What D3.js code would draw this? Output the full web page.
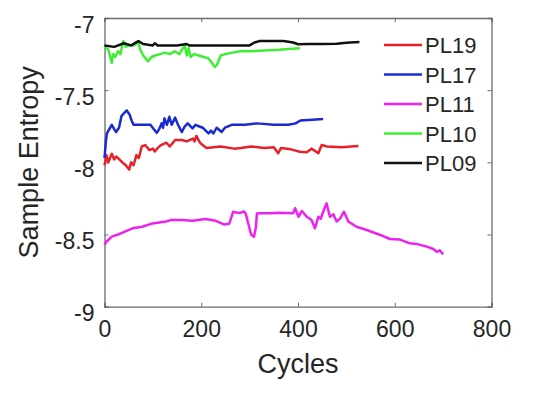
<!DOCTYPE html>
<html>
<head>
<meta charset="utf-8">
<script src="https://cdn.jsdelivr.net/npm/d3@7"></script>
<style>
  body { margin: 0; background: #fff; }
  svg { display: block; font-family: "Liberation Sans", Arial, sans-serif; }
</style>
</head>
<body>
<div id="chart"></div>
<script>
// --- Data (cycles, sample entropy) ---
const seriesNames = ["PL19", "PL17", "PL11", "PL10", "PL09"];
const seriesColors = ["#e8202a", "#1b2bd2", "#ee22ee", "#3fee33", "#111111"];

const pl19 = [[0,-8.02],[4,-7.95],[8,-8.00],[15,-7.94],[20,-7.98],[24,-7.96],[28,-7.97],[37,-8.00],[44,-8.02],[51,-8.05],[55,-8.00],[60,-8.02],[66,-7.95],[71,-7.97],[77,-7.89],[84,-7.88],[93,-7.915],[100,-7.905],[104,-7.925],[110,-7.90],[117,-7.88],[128,-7.864],[135,-7.89],[146,-7.845],[160,-7.845],[170,-7.855],[183,-7.835],[186,-7.855],[190,-7.817],[195,-7.85],[199,-7.87],[211,-7.90],[240,-7.89],[268,-7.905],[282,-7.90],[303,-7.89],[330,-7.90],[350,-7.895],[359,-7.937],[365,-7.90],[385,-7.91],[404,-7.926],[418,-7.93],[428,-7.905],[442,-7.937],[449,-7.88],[460,-7.89],[490,-7.895],[510,-7.89],[525,-7.887]];

const pl17 = [[0,-7.97],[3,-7.85],[5,-7.80],[10,-7.77],[15,-7.74],[20,-7.77],[24,-7.79],[30,-7.76],[35,-7.68],[40,-7.66],[46,-7.64],[52,-7.67],[56,-7.71],[60,-7.74],[70,-7.74],[80,-7.74],[95,-7.74],[102,-7.77],[108,-7.795],[113,-7.77],[118,-7.73],[121,-7.76],[124,-7.695],[129,-7.74],[134,-7.684],[139,-7.74],[146,-7.69],[152,-7.74],[160,-7.79],[166,-7.75],[172,-7.73],[182,-7.765],[188,-7.74],[195,-7.75],[203,-7.76],[215,-7.80],[220,-7.78],[225,-7.80],[232,-7.76],[242,-7.79],[249,-7.76],[263,-7.74],[290,-7.74],[315,-7.73],[350,-7.74],[380,-7.74],[395,-7.73],[405,-7.71],[430,-7.705],[452,-7.70]];

const pl11 = [[0,-8.57],[4,-8.55],[15,-8.515],[28,-8.50],[42,-8.48],[58,-8.457],[78,-8.446],[99,-8.423],[127,-8.41],[137,-8.40],[161,-8.40],[182,-8.405],[209,-8.393],[230,-8.405],[247,-8.43],[258,-8.425],[266,-8.342],[275,-8.35],[281,-8.35],[288,-8.34],[292,-8.355],[298,-8.434],[303,-8.50],[309,-8.515],[313,-8.45],[315,-8.355],[322,-8.353],[342,-8.353],[360,-8.35],[390,-8.353],[394,-8.318],[401,-8.377],[408,-8.337],[418,-8.377],[428,-8.40],[435,-8.457],[442,-8.377],[447,-8.39],[452,-8.342],[459,-8.284],[466,-8.377],[473,-8.36],[480,-8.41],[487,-8.39],[495,-8.342],[504,-8.41],[521,-8.446],[542,-8.469],[570,-8.503],[590,-8.531],[611,-8.535],[631,-8.561],[645,-8.565],[666,-8.584],[680,-8.60],[687,-8.62],[693,-8.61],[700,-8.637]];

const pl10 = [[0,-7.20],[8,-7.22],[15,-7.31],[18,-7.25],[22,-7.27],[28,-7.23],[33,-7.25],[36,-7.20],[39,-7.16],[44,-7.20],[50,-7.19],[60,-7.19],[65,-7.18],[70,-7.17],[74,-7.22],[80,-7.26],[85,-7.28],[90,-7.30],[97,-7.27],[105,-7.26],[115,-7.25],[125,-7.24],[135,-7.25],[145,-7.23],[155,-7.25],[160,-7.22],[166,-7.19],[170,-7.26],[174,-7.21],[178,-7.27],[185,-7.25],[195,-7.26],[205,-7.27],[215,-7.28],[222,-7.31],[228,-7.34],[233,-7.32],[240,-7.26],[250,-7.25],[265,-7.24],[280,-7.23],[300,-7.23],[330,-7.225],[360,-7.22],[380,-7.215],[404,-7.21]];

const pl09 = [[0,-7.19],[20,-7.20],[40,-7.175],[55,-7.19],[70,-7.16],[80,-7.18],[100,-7.19],[104,-7.175],[110,-7.19],[150,-7.19],[170,-7.18],[175,-7.19],[200,-7.19],[250,-7.19],[300,-7.19],[310,-7.17],[320,-7.16],[350,-7.16],[370,-7.16],[390,-7.17],[400,-7.182],[420,-7.18],[450,-7.18],[480,-7.178],[500,-7.172],[527,-7.166]];

const seriesValues = [pl19, pl17, pl11, pl10, pl09];

const xTicks = [0, 200, 400, 600, 800];
const yTicks = [-7, -7.5, -8, -8.5, -9];

// --- Layout ---
const W = 536, H = 393;
const plot = { left: 104.5, top: 18, right: 491.5, bottom: 306.7 };

const svg = d3.select("#chart").append("svg")
    .attr("width", W)
    .attr("height", H);

const x = d3.scaleLinear().domain([0, 800]).range([plot.left, plot.right]);
const y = d3.scaleLinear().domain([-9, -7]).range([plot.bottom, plot.top]);

const axisColor = "#6b6b6b";
const textColor = "#262626";
const tickLen = 4;

// bottom axis (ticks pointing inward)
const xAxis = svg.append("g")
    .attr("transform", `translate(0,${plot.bottom})`)
    .call(d3.axisBottom(x).tickValues(xTicks).tickSize(-tickLen).tickPadding(14).tickFormat(d => String(d)));
xAxis.selectAll("text").style("font-size", "23px").attr("fill", textColor).attr("dy", "0.71em");

// left axis, plain hyphen for the minus sign as in the figure
const yAxis = svg.append("g")
    .attr("transform", `translate(${plot.left},0)`)
    .call(d3.axisLeft(y).tickValues(yTicks).tickSize(-tickLen).tickPadding(10).tickFormat(d => String(d)));
yAxis.selectAll("text").style("font-size", "23px").attr("fill", textColor).attr("dy", "0.62em");

// top and right mirrored ticks
svg.append("g")
    .attr("transform", `translate(0,${plot.top})`)
    .call(d3.axisTop(x).tickValues(xTicks).tickSize(-tickLen).tickFormat(""));
svg.append("g")
    .attr("transform", `translate(${plot.right},0)`)
    .call(d3.axisRight(y).tickValues(yTicks).tickSize(-tickLen).tickFormat(""));

svg.selectAll(".domain").attr("stroke", axisColor).attr("stroke-width", 1.3);
svg.selectAll(".tick line").attr("stroke", axisColor);

// --- Lines ---
const line = d3.line().x(d => x(d[0])).y(d => y(d[1]));

svg.append("g").selectAll("path")
    .data(seriesValues)
    .enter()
    .append("path")
    .attr("d", line)
    .attr("fill", "none")
    .attr("stroke", (d, i) => seriesColors[i])
    .attr("stroke-width", 2.5)
    .attr("stroke-linejoin", "round");

// --- Axis titles ---
svg.append("text")
    .attr("x", (plot.left + plot.right) / 2)
    .attr("y", 373)
    .attr("text-anchor", "middle")
    .attr("fill", textColor)
    .style("font-size", "27px")
    .text("Cycles");

svg.append("text")
    .attr("transform", `translate(38,${(plot.top + plot.bottom) / 2}) rotate(-90)`)
    .attr("text-anchor", "middle")
    .attr("fill", textColor)
    .style("font-size", "27px")
    .text("Sample Entropy");

// --- Legend ---
const legend = svg.append("g").attr("transform", "translate(384,45)");
const items = legend.selectAll("g")
    .data(seriesNames)
    .enter()
    .append("g")
    .attr("transform", (d, i) => `translate(0,${i * 29.5})`);

items.append("line")
    .attr("x1", 0).attr("x2", 38)
    .attr("stroke", (d, i) => seriesColors[i])
    .attr("stroke-width", 2.5);

items.append("text")
    .attr("x", 41)
    .attr("y", 8)
    .attr("fill", textColor)
    .style("font-size", "22px")
    .text(d => d);
</script>
</body>
</html>
